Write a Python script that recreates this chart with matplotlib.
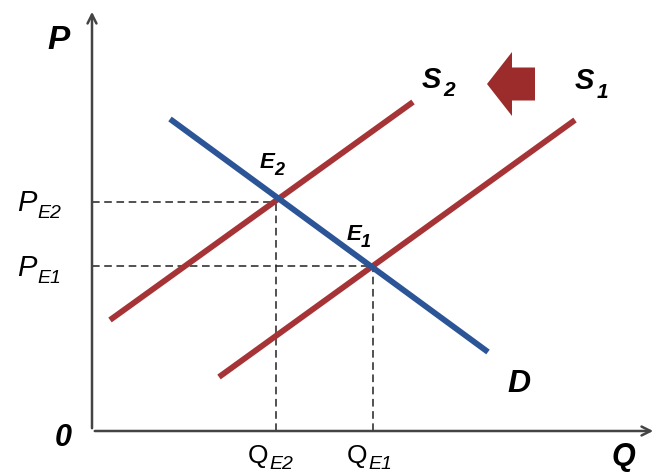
import matplotlib.pyplot as plt
from matplotlib.patches import FancyArrow

# coordinates measured from the origin of the P/Q diagram (pixel-like units)
d_q = [78, 396]
d_p = [312, 79]
s1_q = [127, 483]
s1_p = [54, 311]
s2_q = [18, 321]
s2_p = [111, 329]
eq_q = [281, 184]   # E1, E2
eq_p = [165, 229]
eq_names = ['1', '2']

red = '#a63436'
blue = '#2c5597'
arrow_red = '#9c2b2b'

fig = plt.figure(figsize=(6.57, 4.77), dpi=100)
ax = fig.add_axes([0, 0, 1, 1])
ax.set_xlim(-92, 565)
ax.set_ylim(-45, 432)
ax.axis('off')

# axes with arrow heads
ax.annotate('', xy=(0, 422), xytext=(0, 0),
            arrowprops=dict(arrowstyle='->', color='#444444', lw=1.8, mutation_scale=16))
ax.annotate('', xy=(564, 0), xytext=(0, 0),
            arrowprops=dict(arrowstyle='->', color='#444444', lw=1.8, mutation_scale=16))

# dashed guides
for q, p in zip(eq_q, eq_p):
    ax.plot([0, q], [p, p], ls='--', color='#222222', lw=1.1, dashes=(5, 3))
    ax.plot([q, q], [0, p], ls='--', color='#222222', lw=1.1, dashes=(5, 3))

ax.plot(s2_q, s2_p, color=red, lw=4.2, solid_capstyle='butt')
ax.plot(s1_q, s1_p, color=red, lw=4.2, solid_capstyle='butt')
ax.plot(d_q, d_p, color=blue, lw=4.2, solid_capstyle='butt')

# shift arrow
ax.add_patch(FancyArrow(443, 347, -48, 0, width=33, head_width=64, head_length=25,
                        length_includes_head=True, color=arrow_red, lw=0))

fam = 'Liberation Sans'


def label(x, y, main, sub=None, size=18, subsize=12, dy=7, weight='bold',
          style='italic', gap=1):
    t = ax.text(x, y, main, fontsize=size, fontweight=weight, fontstyle=style,
                family=fam, ha='left', va='baseline')
    if sub:
        fig.canvas.draw()
        bb = t.get_window_extent().transformed(ax.transData.inverted())
        ax.text(bb.x1 + gap, y - dy, sub, fontsize=subsize, fontweight=weight,
                fontstyle='italic', family=fam, ha='left', va='baseline')


label(-45, 383, 'P', size=24)
label(520, -33, 'Q', size=22)
label(-37, -14, '0', size=22)
label(330, 344, 'S', '2', size=21, subsize=15, dy=8, gap=2)
label(483, 343, 'S', '1', size=21, subsize=15, dy=9, gap=2)
label(415, 40, 'D', size=23)
label(168, 264, 'E', '2', size=16, subsize=13, dy=7, gap=-1)
label(255, 192, 'E', '1', size=16, subsize=13, dy=7, gap=-1)
label(-75, 221, 'P', 'E2', size=21, subsize=14, dy=7, weight='normal')
label(-75, 156, 'P', 'E1', size=21, subsize=14, dy=7, weight='normal')
label(156, -31, 'Q', 'E2', size=19, subsize=14, dy=6, weight='normal', style='normal')
label(255, -31, 'Q', 'E1', size=19, subsize=14, dy=6, weight='normal', style='normal')

fig.savefig('out.png', dpi=100)
